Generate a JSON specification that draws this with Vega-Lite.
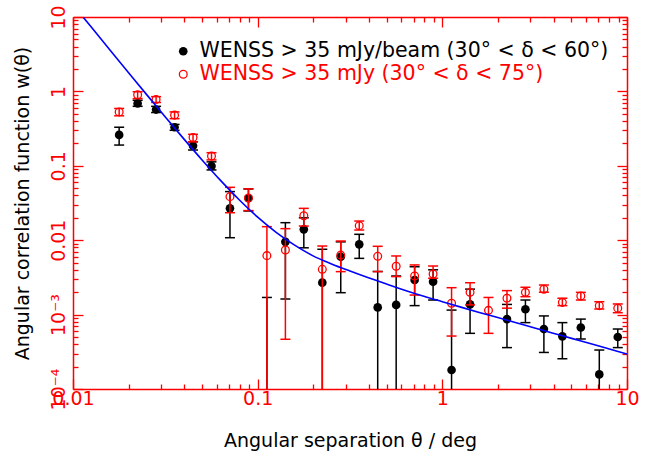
{
  "$schema": "https://vega.github.io/schema/vega-lite/v6.json",
  "width": 554,
  "height": 372,
  "autosize": {"type": "none"},
  "padding": {"left": 73, "top": 17, "right": 20, "bottom": 71},
  "background": "white",
  "config": {
    "view": {"stroke": null},
    "font": "DejaVu Sans",
    "axis": {
      "grid": false,
      "domainColor": "red",
      "domainWidth": 1.5,
      "tickColor": "red",
      "tickWidth": 1.3,
      "labelColor": "red",
      "labelFont": "DejaVu Sans",
      "labelFontSize": 19,
      "labelOverlap": false,
      "labelFlush": false,
      "labelBound": false,
      "titleColor": "black",
      "titleFont": "DejaVu Sans",
      "titleFontSize": 19,
      "titleFontWeight": "normal"
    }
  },
  "datasets": {
    "corr": [
      {"sample": "A", "theta": 0.01778, "w": 0.26, "lo": 0.19, "hi": 0.33},
      {"sample": "A", "theta": 0.02239, "w": 0.69, "lo": 0.63, "hi": 0.76},
      {"sample": "A", "theta": 0.02818, "w": 0.57, "lo": 0.52, "hi": 0.63},
      {"sample": "A", "theta": 0.03548, "w": 0.33, "lo": 0.30, "hi": 0.36},
      {"sample": "A", "theta": 0.04467, "w": 0.186, "lo": 0.163, "hi": 0.21},
      {"sample": "A", "theta": 0.05623, "w": 0.099, "lo": 0.088, "hi": 0.113},
      {"sample": "A", "theta": 0.07079, "w": 0.0268, "lo": 0.0108, "hi": 0.045},
      {"sample": "A", "theta": 0.08913, "w": 0.0366, "lo": 0.0247, "hi": 0.0488},
      {"sample": "A", "theta": 0.1122, "w": null, "lo": 0.000001, "hi": 0.0017},
      {"sample": "A", "theta": 0.1413, "w": 0.0095, "lo": 0.00162, "hi": 0.0172},
      {"sample": "A", "theta": 0.1778, "w": 0.0140, "lo": 0.0079, "hi": 0.020},
      {"sample": "A", "theta": 0.2239, "w": 0.00269, "lo": 0.000001, "hi": 0.00755},
      {"sample": "A", "theta": 0.2818, "w": 0.0060, "lo": 0.00197, "hi": 0.0095},
      {"sample": "A", "theta": 0.3548, "w": 0.0088, "lo": 0.0057, "hi": 0.012},
      {"sample": "A", "theta": 0.4467, "w": 0.00125, "lo": 0.000001, "hi": 0.0038},
      {"sample": "A", "theta": 0.5623, "w": 0.00135, "lo": 0.000001, "hi": 0.0033},
      {"sample": "A", "theta": 0.7079, "w": 0.00292, "lo": 0.00132, "hi": 0.0044},
      {"sample": "A", "theta": 0.8913, "w": 0.00277, "lo": 0.00157, "hi": 0.0040},
      {"sample": "A", "theta": 1.122, "w": 0.00018, "lo": 0.000001, "hi": 0.00115},
      {"sample": "A", "theta": 1.413, "w": 0.00137, "lo": 0.00056, "hi": 0.0022},
      {"sample": "A", "theta": 2.239, "w": 0.00087, "lo": 0.00036, "hi": 0.00137},
      {"sample": "A", "theta": 2.818, "w": 0.00118, "lo": 0.00078, "hi": 0.00157},
      {"sample": "A", "theta": 3.548, "w": 0.00064, "lo": 0.00031, "hi": 0.00096},
      {"sample": "A", "theta": 4.467, "w": 0.00051, "lo": 0.000255, "hi": 0.00078},
      {"sample": "A", "theta": 5.623, "w": 0.00067, "lo": 0.00047, "hi": 0.00087},
      {"sample": "A", "theta": 7.079, "w": 0.000157, "lo": 0.000001, "hi": 0.000334},
      {"sample": "A", "theta": 8.913, "w": 0.0005, "lo": 0.00036, "hi": 0.00064},
      {"sample": "B", "theta": 0.01778, "w": 0.53, "lo": 0.47, "hi": 0.59},
      {"sample": "B", "theta": 0.02239, "w": 0.90, "lo": 0.80, "hi": 0.99},
      {"sample": "B", "theta": 0.02818, "w": 0.78, "lo": 0.71, "hi": 0.85},
      {"sample": "B", "theta": 0.03548, "w": 0.48, "lo": 0.43, "hi": 0.53},
      {"sample": "B", "theta": 0.04467, "w": 0.24, "lo": 0.21, "hi": 0.265},
      {"sample": "B", "theta": 0.05623, "w": 0.135, "lo": 0.12, "hi": 0.15},
      {"sample": "B", "theta": 0.07079, "w": 0.0385, "lo": 0.0234, "hi": 0.0514},
      {"sample": "B", "theta": 0.08913, "w": 0.037, "lo": 0.025, "hi": 0.049},
      {"sample": "B", "theta": 0.1122, "w": 0.0062, "lo": 0.000001, "hi": 0.0152},
      {"sample": "B", "theta": 0.1413, "w": 0.0074, "lo": 0.000466, "hi": 0.0143},
      {"sample": "B", "theta": 0.1778, "w": 0.0213, "lo": 0.0155, "hi": 0.0268},
      {"sample": "B", "theta": 0.2239, "w": 0.00406, "lo": 0.000001, "hi": 0.00835},
      {"sample": "B", "theta": 0.2818, "w": 0.0063, "lo": 0.00378, "hi": 0.00975},
      {"sample": "B", "theta": 0.3548, "w": 0.0157, "lo": 0.0137, "hi": 0.0181},
      {"sample": "B", "theta": 0.4467, "w": 0.00607, "lo": 0.00378, "hi": 0.00828},
      {"sample": "B", "theta": 0.5623, "w": 0.00446, "lo": 0.00324, "hi": 0.00614},
      {"sample": "B", "theta": 0.7079, "w": 0.0033, "lo": 0.00183, "hi": 0.00465},
      {"sample": "B", "theta": 0.8913, "w": 0.00351, "lo": 0.00308, "hi": 0.0045},
      {"sample": "B", "theta": 1.122, "w": 0.00142, "lo": 0.000515, "hi": 0.0023},
      {"sample": "B", "theta": 1.413, "w": 0.00199, "lo": 0.00135, "hi": 0.00268},
      {"sample": "B", "theta": 1.778, "w": 0.00114, "lo": 0.00056, "hi": 0.0017},
      {"sample": "B", "theta": 2.239, "w": 0.00166, "lo": 0.00122, "hi": 0.0021},
      {"sample": "B", "theta": 2.818, "w": 0.00199, "lo": 0.00174, "hi": 0.00233},
      {"sample": "B", "theta": 3.548, "w": 0.00219, "lo": 0.0020, "hi": 0.0025},
      {"sample": "B", "theta": 4.467, "w": 0.00146, "lo": 0.00132, "hi": 0.00166},
      {"sample": "B", "theta": 5.623, "w": 0.00178, "lo": 0.00157, "hi": 0.00199},
      {"sample": "B", "theta": 7.079, "w": 0.00132, "lo": 0.00119, "hi": 0.00149},
      {"sample": "B", "theta": 8.913, "w": 0.00122, "lo": 0.00106, "hi": 0.00139}
    ],
    "model": [
      {"theta": 0.01138, "w": 9.87},
      {"theta": 0.01259, "w": 7.26},
      {"theta": 0.01585, "w": 3.61},
      {"theta": 0.01995, "w": 1.80},
      {"theta": 0.02512, "w": 0.898},
      {"theta": 0.03162, "w": 0.452},
      {"theta": 0.03981, "w": 0.230},
      {"theta": 0.05012, "w": 0.119},
      {"theta": 0.0631, "w": 0.0632},
      {"theta": 0.0794, "w": 0.0350},
      {"theta": 0.1, "w": 0.0204},
      {"theta": 0.1259, "w": 0.01276},
      {"theta": 0.1585, "w": 0.00857},
      {"theta": 0.1995, "w": 0.00616},
      {"theta": 0.2512, "w": 0.00480},
      {"theta": 0.3162, "w": 0.00385},
      {"theta": 0.3981, "w": 0.00312},
      {"theta": 0.5012, "w": 0.00256},
      {"theta": 0.631, "w": 0.00211},
      {"theta": 0.794, "w": 0.00176},
      {"theta": 1, "w": 0.00149},
      {"theta": 1.259, "w": 0.00126},
      {"theta": 1.585, "w": 0.00107},
      {"theta": 1.995, "w": 0.000913},
      {"theta": 2.512, "w": 0.000777},
      {"theta": 3.162, "w": 0.000661},
      {"theta": 3.981, "w": 0.000563},
      {"theta": 5.012, "w": 0.000479},
      {"theta": 6.31, "w": 0.000408},
      {"theta": 7.94, "w": 0.000347},
      {"theta": 10, "w": 0.000295}
    ]
  },
  "layer": [
    {
      "data": {"name": "corr"},
      "transform": [{"filter": "datum.sample == 'A'"}],
      "mark": {"type": "rule", "color": "black", "strokeWidth": 1.5, "clip": true},
      "encoding": {
        "x": {
          "field": "theta", "type": "quantitative",
          "scale": {"type": "log", "domain": [0.01, 10], "nice": false},
          "axis": {
            "orient": "bottom",
            "values": [0.01,0.02,0.03,0.04,0.05,0.06,0.07,0.08,0.09,0.1,0.2,0.3,0.4,0.5,0.6,0.7,0.8,0.9,1,2,3,4,5,6,7,8,9,10],
            "tickSize": {"condition": {"test": "indexof([0.01,0.1,1,10], datum.value) >= 0", "value": -10}, "value": -5},
            "labelExpr": "datum.value == 0.01 ? '0.01' : datum.value == 0.1 ? '0.1' : datum.value == 1 ? '1' : datum.value == 10 ? '10' : ''",
            "labelPadding": 10,
            "title": "Angular separation θ / deg",
            "titlePadding": 18
          }
        },
        "y": {
          "field": "lo", "type": "quantitative",
          "scale": {"type": "log", "domain": [0.0001, 10], "nice": false},
          "axis": {
            "orient": "left",
            "values": [0.0001,0.0002,0.0003,0.0004,0.0005,0.0006,0.0007,0.0008,0.0009,0.001,0.002,0.003,0.004,0.005,0.006,0.007,0.008,0.009,0.01,0.02,0.03,0.04,0.05,0.06,0.07,0.08,0.09,0.1,0.2,0.3,0.4,0.5,0.6,0.7,0.8,0.9,1,2,3,4,5,6,7,8,9,10],
            "tickSize": {"condition": {"test": "indexof([0.0001,0.001,0.01,0.1,1,10], datum.value) >= 0", "value": -10}, "value": -5},
            "labelExpr": "datum.value == 0.0001 ? '10⁻⁴' : datum.value == 0.001 ? '10⁻³' : datum.value == 0.01 ? '0.01' : datum.value == 0.1 ? '0.1' : datum.value == 1 ? '1' : datum.value == 10 ? '10' : ''",
            "labelAngle": -90,
            "labelAlign": "center",
            "labelBaseline": "bottom",
            "labelPadding": 15,
            "title": "Angular correlation function w(θ)",
            "titlePadding": 12
          }
        },
        "y2": {"field": "hi"}
      }
    },
    {
      "data": {"name": "corr"},
      "transform": [{"filter": "datum.sample == 'A'"}, {"fold": ["lo", "hi"], "as": ["end", "val"]}],
      "mark": {"type": "tick", "orient": "horizontal", "color": "black", "size": 10, "thickness": 1.5, "opacity": 1, "clip": true},
      "encoding": {
        "x": {"field": "theta", "type": "quantitative", "scale": {"type": "log", "domain": [0.01, 10], "nice": false}, "axis": null},
        "y": {"field": "val", "type": "quantitative", "scale": {"type": "log", "domain": [0.0001, 10], "nice": false}, "axis": null}
      }
    },
    {
      "data": {"name": "corr"},
      "transform": [{"filter": "datum.sample == 'A'"}],
      "mark": {"type": "point", "filled": true, "color": "black", "size": 75, "opacity": 1, "clip": true},
      "encoding": {
        "x": {"field": "theta", "type": "quantitative", "scale": {"type": "log", "domain": [0.01, 10], "nice": false}, "axis": null},
        "y": {"field": "w", "type": "quantitative", "scale": {"type": "log", "domain": [0.0001, 10], "nice": false}, "axis": null},
        "shape": {
          "field": "sample", "type": "nominal",
          "scale": {"range": ["circle"]},
          "legend": {
            "orient": "none", "legendX": 100, "legendY": 24, "title": null, "padding": 0,
            "labelExpr": "'WENSS > 35 mJy/beam (30° < δ < 60°)'",
            "labelColor": "black", "labelFont": "DejaVu Sans", "labelFontSize": 20.5, "labelOffset": 6,
            "labelLimit": 600,
            "symbolType": "circle", "symbolSize": 75, "symbolFillColor": "black", "symbolStrokeColor": "black", "symbolOpacity": 1
          }
        }
      }
    },
    {
      "data": {"name": "corr"},
      "transform": [{"filter": "datum.sample == 'B'"}],
      "mark": {"type": "rule", "color": "red", "strokeWidth": 1.5, "clip": true},
      "encoding": {
        "x": {"field": "theta", "type": "quantitative", "scale": {"type": "log", "domain": [0.01, 10], "nice": false}, "axis": null},
        "y": {"field": "lo", "type": "quantitative", "scale": {"type": "log", "domain": [0.0001, 10], "nice": false}, "axis": null},
        "y2": {"field": "hi"}
      }
    },
    {
      "data": {"name": "corr"},
      "transform": [{"filter": "datum.sample == 'B'"}, {"fold": ["lo", "hi"], "as": ["end", "val"]}],
      "mark": {"type": "tick", "orient": "horizontal", "color": "red", "size": 10, "thickness": 1.5, "opacity": 1, "clip": true},
      "encoding": {
        "x": {"field": "theta", "type": "quantitative", "scale": {"type": "log", "domain": [0.01, 10], "nice": false}, "axis": null},
        "y": {"field": "val", "type": "quantitative", "scale": {"type": "log", "domain": [0.0001, 10], "nice": false}, "axis": null}
      }
    },
    {
      "data": {"name": "corr"},
      "transform": [{"filter": "datum.sample == 'B'"}],
      "mark": {"type": "point", "filled": false, "shape": "circle", "size": 60, "strokeWidth": 1.3, "opacity": 1, "clip": true},
      "encoding": {
        "x": {"field": "theta", "type": "quantitative", "scale": {"type": "log", "domain": [0.01, 10], "nice": false}, "axis": null},
        "y": {"field": "w", "type": "quantitative", "scale": {"type": "log", "domain": [0.0001, 10], "nice": false}, "axis": null},
        "stroke": {
          "field": "sample", "type": "nominal",
          "scale": {"range": ["red"]},
          "legend": {
            "orient": "none", "legendX": 100, "legendY": 47, "title": null, "padding": 0,
            "labelExpr": "'WENSS > 35 mJy (30° < δ < 75°)'",
            "labelColor": "red", "labelFont": "DejaVu Sans", "labelFontSize": 20.5, "labelOffset": 6,
            "labelLimit": 600,
            "symbolType": "circle", "symbolSize": 60, "symbolFillColor": "transparent", "symbolStrokeColor": "red", "symbolStrokeWidth": 1.3, "symbolOpacity": 1
          }
        }
      }
    },
    {
      "data": {"name": "model"},
      "mark": {"type": "line", "color": "#0000ff", "strokeWidth": 1.6, "interpolate": "monotone", "clip": true},
      "encoding": {
        "x": {
          "field": "theta", "type": "quantitative",
          "scale": {"type": "log", "domain": [0.01, 10], "nice": false},
          "axis": {
            "orient": "top",
            "values": [0.01,0.02,0.03,0.04,0.05,0.06,0.07,0.08,0.09,0.1,0.2,0.3,0.4,0.5,0.6,0.7,0.8,0.9,1,2,3,4,5,6,7,8,9,10],
            "tickSize": {"condition": {"test": "indexof([0.01,0.1,1,10], datum.value) >= 0", "value": -10}, "value": -5},
            "labels": false,
            "title": null
          }
        },
        "y": {
          "field": "w", "type": "quantitative",
          "scale": {"type": "log", "domain": [0.0001, 10], "nice": false},
          "axis": {
            "orient": "right",
            "values": [0.0001,0.0002,0.0003,0.0004,0.0005,0.0006,0.0007,0.0008,0.0009,0.001,0.002,0.003,0.004,0.005,0.006,0.007,0.008,0.009,0.01,0.02,0.03,0.04,0.05,0.06,0.07,0.08,0.09,0.1,0.2,0.3,0.4,0.5,0.6,0.7,0.8,0.9,1,2,3,4,5,6,7,8,9,10],
            "tickSize": {"condition": {"test": "indexof([0.0001,0.001,0.01,0.1,1,10], datum.value) >= 0", "value": -10}, "value": -5},
            "labels": false,
            "title": null
          }
        }
      }
    }
  ],
  "resolve": {"axis": {"x": "independent", "y": "independent"}}
}
